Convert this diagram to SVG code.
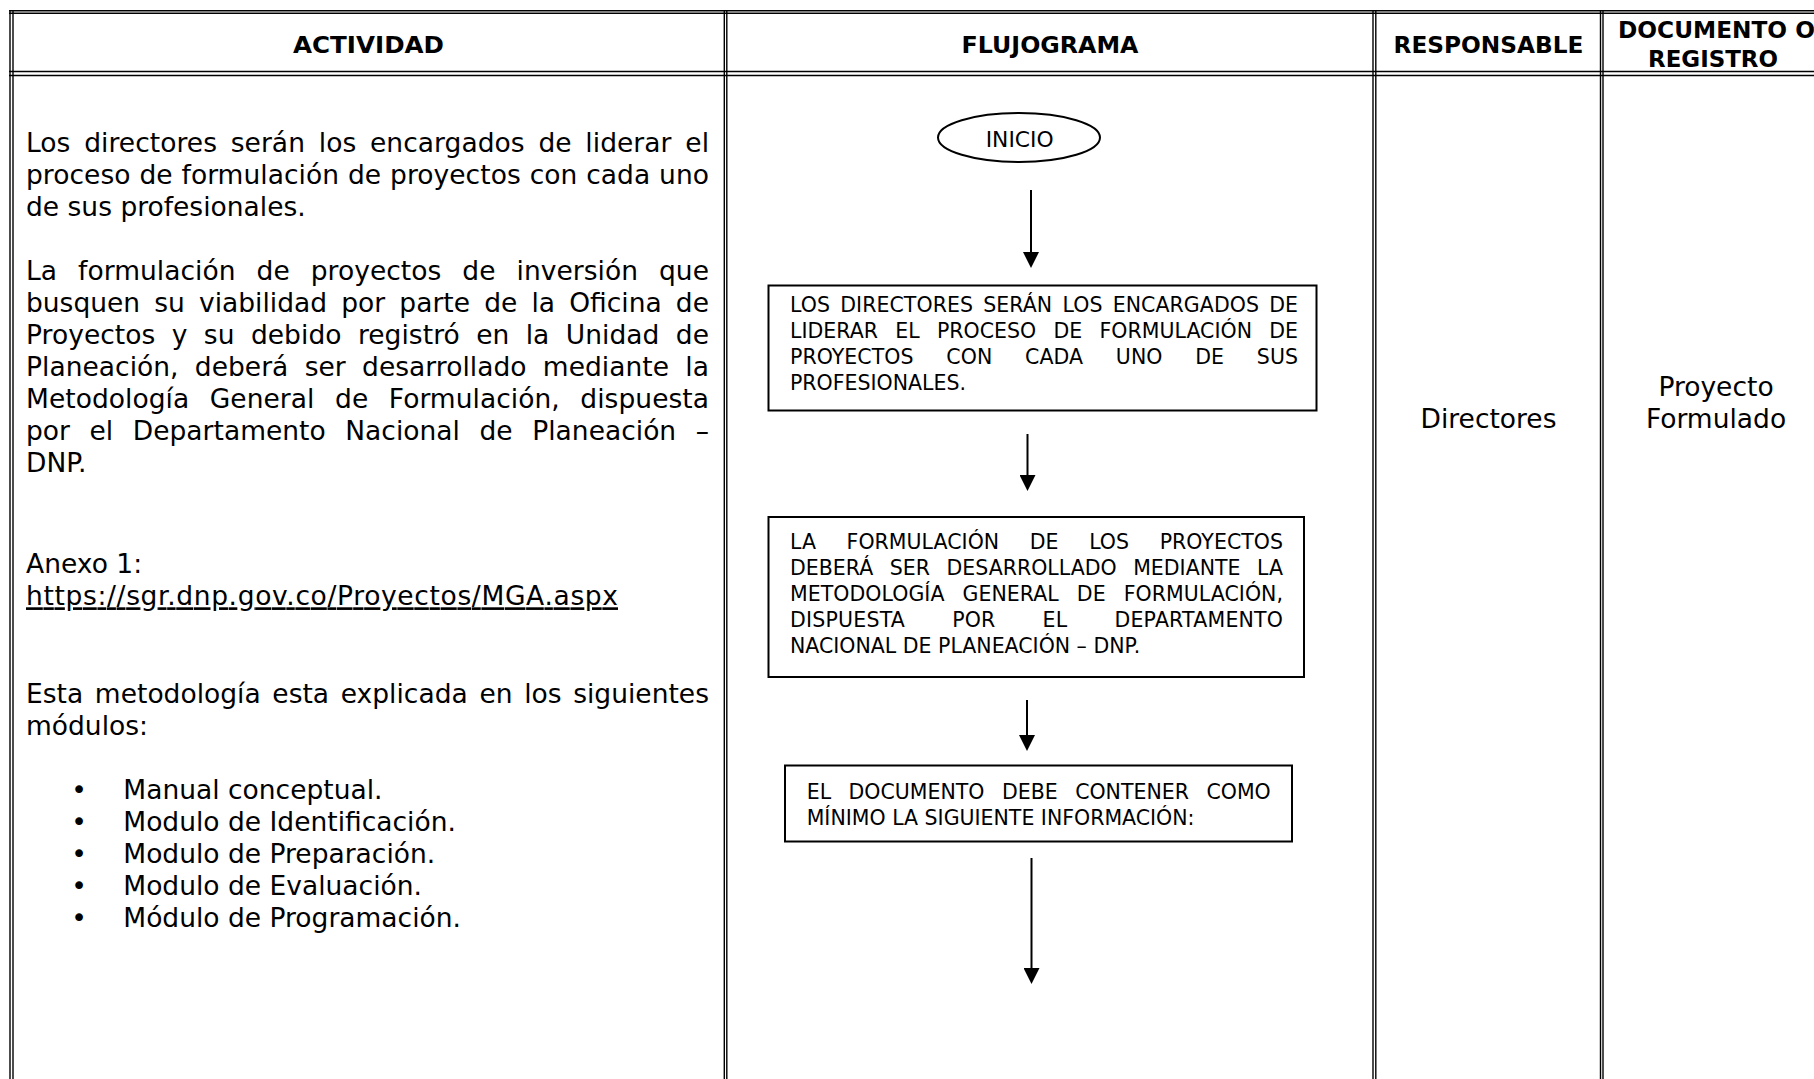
<svg xmlns="http://www.w3.org/2000/svg" width="1814" height="1079" viewBox="0 0 1814 1079">
<style>
.grid{stroke:#000;stroke-width:1.4;fill:none}
.t{font-family:"DejaVu Sans",Verdana,sans-serif;font-size:26.5px;fill:#000}
.h{font-family:"DejaVu Sans",Verdana,sans-serif;font-size:22.5px;font-weight:bold;fill:#000}
.b{font-family:"DejaVu Sans",Tahoma,sans-serif;font-size:20.5px;fill:#000}
.node{fill:#fff;stroke:#000;stroke-width:2}
.conn{stroke:#000;stroke-width:2;fill:none}
</style>
<defs>
<marker id="arr" viewBox="0 0 16 16" markerWidth="16" markerHeight="16" refX="0" refY="8" orient="auto" markerUnits="userSpaceOnUse">
<path d="M0,0 L16,8 L0,16 Z" fill="#000"/>
</marker>
</defs>
<rect width="1814" height="1079" fill="#fff"/>

<g id="table" class="grid">
<line x1="9" y1="10.8" x2="1814" y2="10.8"/>
<line x1="9" y1="13.3" x2="1814" y2="13.3"/>
<line x1="9" y1="71.5" x2="1814" y2="71.5"/>
<line x1="9" y1="75.5" x2="1814" y2="75.5"/>
<line x1="10" y1="10" x2="10" y2="1079"/>
<line x1="13" y1="10" x2="13" y2="1079"/>
<line x1="724.3" y1="10" x2="724.3" y2="1079"/>
<line x1="726.8" y1="10" x2="726.8" y2="1079"/>
<line x1="1373" y1="10" x2="1373" y2="1079"/>
<line x1="1375.8" y1="10" x2="1375.8" y2="1079"/>
<line x1="1600.5" y1="10" x2="1600.5" y2="1079"/>
<line x1="1603" y1="10" x2="1603" y2="1079"/>
</g>

<g id="headers">
<text class="h" x="368.5" y="52.7" text-anchor="middle" textLength="151" lengthAdjust="spacingAndGlyphs">ACTIVIDAD</text>
<text class="h" x="1050" y="52.7" text-anchor="middle" textLength="177" lengthAdjust="spacingAndGlyphs">FLUJOGRAMA</text>
<text class="h" x="1488.5" y="52.7" text-anchor="middle" textLength="190" lengthAdjust="spacingAndGlyphs">RESPONSABLE</text>
<text class="h" x="1618" y="38.3" textLength="197" lengthAdjust="spacingAndGlyphs">DOCUMENTO O</text>
<text class="h" x="1713" y="66.7" text-anchor="middle" textLength="130" lengthAdjust="spacingAndGlyphs">REGISTRO</text>
</g>

<g id="actividad" class="t">
<text x="26" y="151.7" word-spacing="5.3" textLength="683">Los directores serán los encargados de liderar el</text>
<text x="26" y="183.7" word-spacing="0.4" textLength="683">proceso de formulación de proyectos con cada uno</text>
<text x="26" y="215.7">de sus profesionales.</text>
<text x="26" y="280" word-spacing="12.6" textLength="683">La formulación de proyectos de inversión que</text>
<text x="26" y="312" word-spacing="5.75" textLength="683">busquen su viabilidad por parte de la Oficina de</text>
<text x="26" y="344" word-spacing="7.9" textLength="683">Proyectos y su debido registró en la Unidad de</text>
<text x="26" y="376" word-spacing="7.9" textLength="683">Planeación, deberá ser desarrollado mediante la</text>
<text x="26" y="408" word-spacing="12.1" textLength="683">Metodología General de Formulación, dispuesta</text>
<text x="26" y="440" word-spacing="11.2" textLength="683">por el Departamento Nacional de Planeación –</text>
<text x="26" y="472">DNP.</text>
<text x="26" y="573.3">Anexo 1:</text>
<text x="26" y="605.3" text-decoration="underline" textLength="592">https://sgr.dnp.gov.co/Proyectos/MGA.aspx</text>
<text x="26" y="703.3" word-spacing="3.2" textLength="683">Esta metodología esta explicada en los siguientes</text>
<text x="26" y="735.3">módulos:</text>
<text x="79" y="799.3" text-anchor="middle">•</text>
<text x="79" y="831.1" text-anchor="middle">•</text>
<text x="79" y="862.9" text-anchor="middle">•</text>
<text x="79" y="894.7" text-anchor="middle">•</text>
<text x="79" y="926.5" text-anchor="middle">•</text>
<text x="123.3" y="799.3">Manual conceptual.</text>
<text x="123.3" y="831.1">Modulo de Identificación.</text>
<text x="123.3" y="862.9">Modulo de Preparación.</text>
<text x="123.3" y="894.7">Modulo de Evaluación.</text>
<text x="123.3" y="926.5">Módulo de Programación.</text>
</g>

<g id="connectors">
<line class="conn" x1="1031" y1="190" x2="1031" y2="252" marker-end="url(#arr)"/>
<line class="conn" x1="1027.5" y1="434" x2="1027.5" y2="475" marker-end="url(#arr)"/>
<line class="conn" x1="1027" y1="700" x2="1027" y2="735" marker-end="url(#arr)"/>
<line class="conn" x1="1031.5" y1="858" x2="1031.5" y2="968" marker-end="url(#arr)"/>
</g>

<g id="inicio">
<ellipse class="node" cx="1019" cy="137.5" rx="81" ry="24.5"/>
<text class="b" x="1019.7" y="146.7" text-anchor="middle" textLength="68" lengthAdjust="spacingAndGlyphs">INICIO</text>
</g>

<g id="box1">
<rect class="node" x="768.5" y="285.5" width="548" height="125"/>
<text class="b" x="790" y="311.5" word-spacing="3.6" textLength="508">LOS DIRECTORES SERÁN LOS ENCARGADOS DE</text>
<text class="b" x="790" y="337.5" word-spacing="10.7" textLength="508">LIDERAR EL PROCESO DE FORMULACIÓN DE</text>
<text class="b" x="790" y="363.5" word-spacing="26.2" textLength="508">PROYECTOS CON CADA UNO DE SUS</text>
<text class="b" x="790" y="389.5">PROFESIONALES.</text>
</g>

<g id="box2">
<rect class="node" x="768.5" y="517" width="535.5" height="160"/>
<text class="b" x="790" y="549" word-spacing="24" textLength="493">LA FORMULACIÓN DE LOS PROYECTOS</text>
<text class="b" x="790" y="575" word-spacing="10" textLength="493">DEBERÁ SER DESARROLLADO MEDIANTE LA</text>
<text class="b" x="790" y="601" word-spacing="11.5" textLength="493">METODOLOGÍA GENERAL DE FORMULACIÓN,</text>
<text class="b" x="790" y="627" word-spacing="40.3" textLength="493">DISPUESTA POR EL DEPARTAMENTO</text>
<text class="b" x="790" y="653">NACIONAL DE PLANEACIÓN – DNP.</text>
</g>

<g id="box3">
<rect class="node" x="785" y="765.5" width="507" height="76"/>
<text class="b" x="806.7" y="799" word-spacing="11" textLength="464">EL DOCUMENTO DEBE CONTENER COMO</text>
<text class="b" x="806.7" y="825">MÍNIMO LA SIGUIENTE INFORMACIÓN:</text>
</g>

<g id="responsable">
<text class="t" x="1488.5" y="428.3" text-anchor="middle">Directores</text>
</g>

<g id="documento">
<text class="t" x="1716" y="396" text-anchor="middle">Proyecto</text>
<text class="t" x="1716" y="428.3" text-anchor="middle">Formulado</text>
</g>
</svg>
